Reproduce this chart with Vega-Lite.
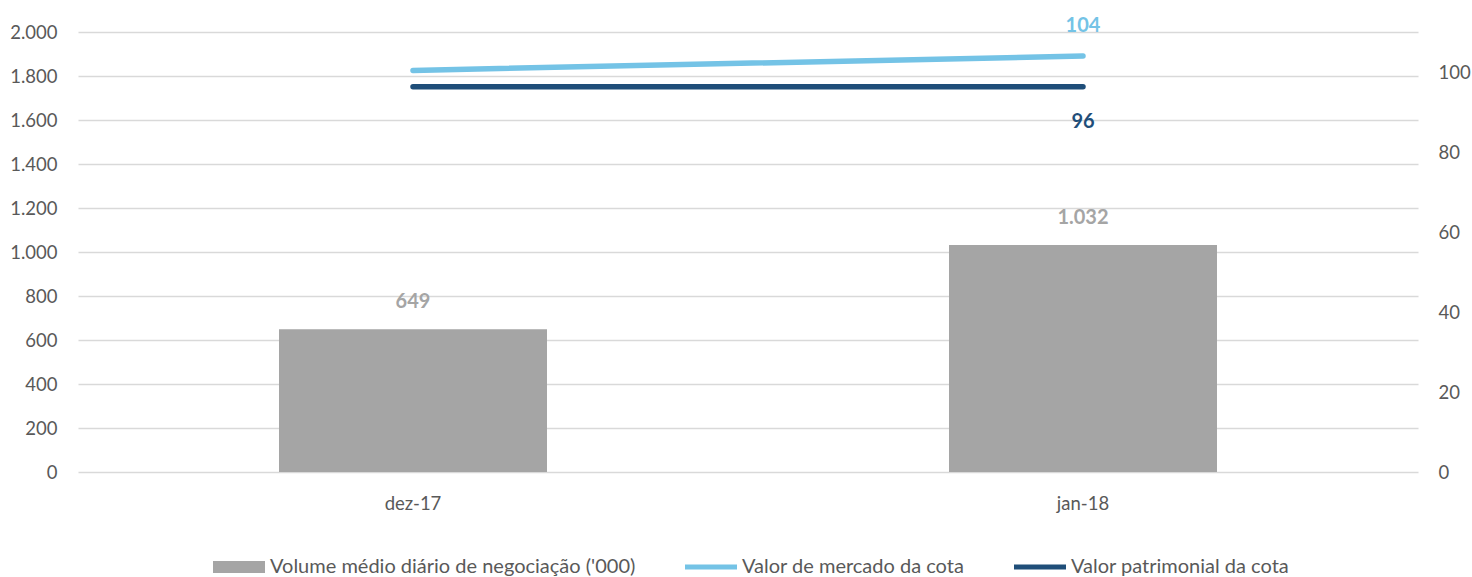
{
  "$schema": "https://vega.github.io/schema/vega-lite/v6.json",
  "width": 1340,
  "height": 440,
  "autosize": {"type": "none"},
  "padding": {"left": 78, "top": 32, "right": 54, "bottom": 105},
  "background": "white",
  "config": {
    "locale": {"number": {"decimal": ",", "thousands": ".", "grouping": [3], "currency": ["R$", ""]}},
    "font": "Lato",
    "view": {"stroke": null},
    "axis": {"labelFont": "Lato", "labelFontSize": 18.5, "labelColor": "#595959", "ticks": false, "domain": false, "title": null}
  },
  "data": {
    "values": [
      {"mes": "dez-17", "serie": "Volume médio diário de negociação ('000)", "valor": 649},
      {"mes": "jan-18", "serie": "Volume médio diário de negociação ('000)", "valor": 1032},
      {"mes": "dez-17", "serie": "Valor de mercado da cota", "valor": 100.4},
      {"mes": "jan-18", "serie": "Valor de mercado da cota", "valor": 104},
      {"mes": "dez-17", "serie": "Valor patrimonial da cota", "valor": 96.3},
      {"mes": "jan-18", "serie": "Valor patrimonial da cota", "valor": 96.3}
    ]
  },
  "encoding": {
    "x": {
      "field": "mes",
      "type": "nominal",
      "sort": ["dez-17", "jan-18"],
      "scale": {"paddingInner": 0.6, "paddingOuter": 0.3},
      "axis": {"labelAngle": 0, "labelPadding": 22, "grid": false}
    },
    "color": {
      "field": "serie",
      "type": "nominal",
      "scale": {
        "domain": ["Volume médio diário de negociação ('000)", "Valor de mercado da cota", "Valor patrimonial da cota"],
        "range": ["#a5a5a5", "#74c3e6", "#1f4e79"]
      },
      "legend": {
        "title": null,
        "orient": "none",
        "legendX": 135,
        "legendY": 509,
        "direction": "horizontal",
        "labelFont": "Lato",
        "labelFontSize": 20,
        "labelColor": "#595959",
        "labelOffset": 5,
        "labelLimit": 500,
        "columnPadding": 49,
        "symbolSize": 2704,
        "symbolStrokeWidth": 0,
        "encode": {
          "symbols": {
            "update": {
              "shape": {"signal": "datum.index === 0 ? 'M-1,-0.23H1V0.23H-1Z' : 'M-1,-0.095H1V0.095H-1Z'"},
              "fill": {"signal": "datum.index === 0 ? '#a5a5a5' : datum.index === 1 ? '#74c3e6' : '#1f4e79'"},
              "stroke": {"value": "transparent"},
              "opacity": {"value": 1}
            }
          }
        }
      }
    }
  },
  "layer": [
    {
      "transform": [{"filter": "datum.serie === \"Volume médio diário de negociação ('000)\""}],
      "layer": [
        {
          "mark": {"type": "bar"},
          "encoding": {
            "y": {
              "field": "valor",
              "type": "quantitative",
              "scale": {"domain": [0, 2000], "nice": false},
              "axis": {"values": [0, 200, 400, 600, 800, 1000, 1200, 1400, 1600, 1800, 2000], "format": ",.0f", "labelPadding": 21, "grid": true, "gridColor": "#d9d9d9", "gridWidth": 1.5}
            }
          }
        },
        {
          "mark": {"type": "text", "dy": -27, "fontSize": 20, "fontWeight": "bold", "font": "Lato", "color": "#a5a5a5"},
          "encoding": {
            "y": {"field": "valor", "type": "quantitative"},
            "text": {"field": "valor", "type": "quantitative", "format": ",.0f"},
            "color": {"value": "#a5a5a5"}
          }
        }
      ]
    },
    {
      "transform": [{"filter": "datum.serie !== \"Volume médio diário de negociação ('000)\""}],
      "layer": [
        {
          "mark": {"type": "line", "strokeWidth": 5.5, "strokeCap": "round"},
          "encoding": {
            "y": {
              "field": "valor",
              "type": "quantitative",
              "scale": {"domain": [0, 110], "nice": false},
              "axis": {"orient": "right", "values": [0, 20, 40, 60, 80, 100], "format": ",.0f", "labelPadding": 20, "grid": false}
            }
          }
        },
        {
          "transform": [{"filter": "datum.mes === 'jan-18' && datum.serie === 'Valor de mercado da cota'"}],
          "mark": {"type": "text", "dy": -30, "fontSize": 20, "fontWeight": "bold", "font": "Lato"},
          "encoding": {
            "y": {"field": "valor", "type": "quantitative"},
            "text": {"field": "valor", "type": "quantitative", "format": ",.0f"},
            "color": {"value": "#74c3e6"}
          }
        },
        {
          "transform": [{"filter": "datum.mes === 'jan-18' && datum.serie === 'Valor patrimonial da cota'"}],
          "mark": {"type": "text", "dy": 35, "fontSize": 20, "fontWeight": "bold", "font": "Lato"},
          "encoding": {
            "y": {"field": "valor", "type": "quantitative"},
            "text": {"field": "valor", "type": "quantitative", "format": ",.0f"},
            "color": {"value": "#1f4e79"}
          }
        }
      ]
    }
  ],
  "resolve": {"scale": {"y": "independent"}}
}
